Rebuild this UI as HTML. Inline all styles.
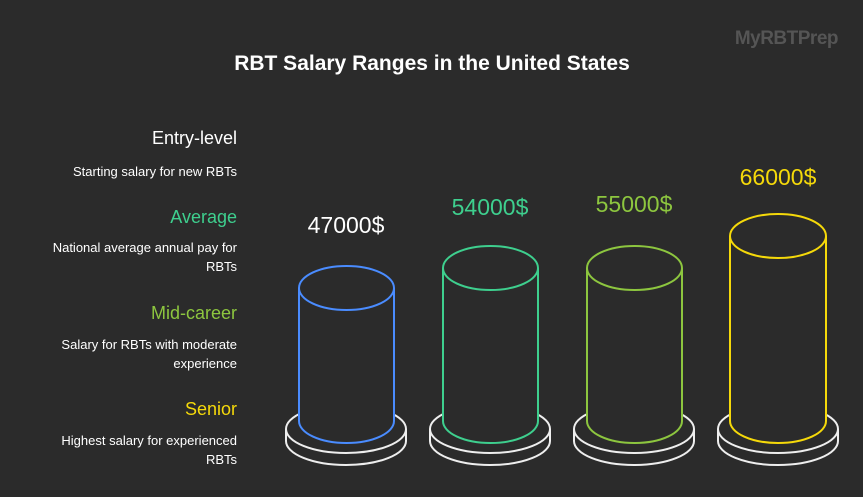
<!DOCTYPE html>
<html><head><style>
body{margin:0;width:863px;height:497px;background:#2b2b2b;overflow:hidden}
svg{display:block}
text{font-family:"Liberation Sans",sans-serif}
</style></head><body>
<svg width="863" height="497" viewBox="0 0 863 497">
<rect width="863" height="497" fill="#2b2b2b"/>
<text x="838" y="44" text-anchor="end" font-size="19" font-weight="bold" fill="#555" letter-spacing="-0.5">MyRBTPrep</text>
<text x="432" y="70" text-anchor="middle" font-size="21" font-weight="bold" fill="#fff">RBT Salary Ranges in the United States</text>
<g text-anchor="end">
<text x="237" y="144" font-size="18" fill="#fff">Entry-level</text>
<text x="237" y="176" font-size="13" fill="#fff">Starting salary for new RBTs</text>
<text x="237" y="223" font-size="18" fill="#3ecf8e">Average</text>
<text x="237" y="252" font-size="13" fill="#fff">National average annual pay for</text>
<text x="237" y="271" font-size="13" fill="#fff">RBTs</text>
<text x="237" y="319" font-size="18" fill="#8dc63f">Mid-career</text>
<text x="237" y="349" font-size="13" fill="#fff">Salary for RBTs with moderate</text>
<text x="237" y="368" font-size="13" fill="#fff">experience</text>
<text x="237" y="415" font-size="18" fill="#f5d90a">Senior</text>
<text x="237" y="445" font-size="13" fill="#fff">Highest salary for experienced</text>
<text x="237" y="464" font-size="13" fill="#fff">RBTs</text>
</g>
<g fill="none" stroke-width="2">
<!-- bases -->
<g stroke="#eee">
<path d="M286 429 v12 a60 24 0 0 0 120 0 v-12"/><ellipse cx="346" cy="429" rx="60" ry="24" fill="#2b2b2b"/>
<path d="M430 429 v12 a60 24 0 0 0 120 0 v-12"/><ellipse cx="490" cy="429" rx="60" ry="24" fill="#2b2b2b"/>
<path d="M574 429 v12 a60 24 0 0 0 120 0 v-12"/><ellipse cx="634" cy="429" rx="60" ry="24" fill="#2b2b2b"/>
<path d="M718 429 v12 a60 24 0 0 0 120 0 v-12"/><ellipse cx="778" cy="429" rx="60" ry="24" fill="#2b2b2b"/>
</g>
<path d="M299 288 V421 a47.5 22 0 0 0 95 0 V288" stroke="#4a8cff" fill="#2b2b2b"/><ellipse cx="346.5" cy="288" rx="47.5" ry="22" stroke="#4a8cff"/>
<path d="M443 268 V421 a47.5 22 0 0 0 95 0 V268" stroke="#3ecf8e" fill="#2b2b2b"/><ellipse cx="490.5" cy="268" rx="47.5" ry="22" stroke="#3ecf8e"/>
<path d="M587 268 V421 a47.5 22 0 0 0 95 0 V268" stroke="#8dc63f" fill="#2b2b2b"/><ellipse cx="634.5" cy="268" rx="47.5" ry="22" stroke="#8dc63f"/>
<path d="M730 236 V421 a48 22 0 0 0 96 0 V236" stroke="#f5d90a" fill="#2b2b2b"/><ellipse cx="778" cy="236" rx="48" ry="22" stroke="#f5d90a"/>
</g>
<g text-anchor="middle" font-size="23">
<text x="346" y="233" fill="#fff">47000$</text>
<text x="490" y="215" fill="#3ecf8e">54000$</text>
<text x="634" y="212" fill="#8dc63f">55000$</text>
<text x="778" y="185" fill="#f5d90a">66000$</text>
</g>
</svg>
</body></html>
